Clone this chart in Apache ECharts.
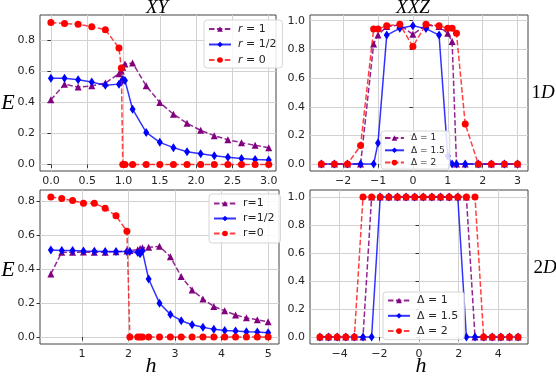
<!DOCTYPE html>
<html><head><meta charset="utf-8">
<script src="https://cdn.jsdelivr.net/npm/echarts@6/dist/echarts.min.js"></script>
<style>html,body{margin:0;padding:0;background:#fff}#c{width:556px;height:376px}</style>
</head><body><div id="c"></div>
<script>
// ---- XY, 1D (top-left) ----
const xXY1 = [0, 0.1875, 0.375, 0.5625, 0.75, 0.9375, 0.97, 0.99, 1.02, 1.125, 1.3125, 1.5, 1.6875, 1.875, 2.0625, 2.25, 2.4375, 2.625, 2.8125, 3.0];
const xy1_r1   = [0.415, 0.516, 0.497, 0.505, 0.523, 0.583, 0.600, 0.625, 0.645, 0.652, 0.505, 0.398, 0.323, 0.265, 0.219, 0.185, 0.159, 0.140, 0.123, 0.108];
const xy1_rHalf= [0.553, 0.553, 0.544, 0.529, 0.508, 0.516, 0.530, 0.545, 0.540, 0.355, 0.206, 0.142, 0.108, 0.082, 0.069, 0.056, 0.047, 0.039, 0.032, 0.028];
const xy1_r0   = [0.912, 0.905, 0.901, 0.884, 0.866, 0.748, 0.619, 0, 0, 0, 0, 0, 0, 0, 0, 0, 0, 0, 0, 0];
// ---- XY, 2D (bottom-left) ----
const hXY2 = [0.333, 0.567, 0.8, 1.033, 1.267, 1.5, 1.733, 1.967, 2.03, 2.2, 2.25, 2.3, 2.433, 2.667, 2.9, 3.133, 3.367, 3.6, 3.833, 4.067, 4.3, 4.533, 4.767, 5.0];
const xy2_r1   = [0.371, 0.498, 0.498, 0.499, 0.498, 0.498, 0.501, 0.505, 0.508, 0.513, 0.520, 0.525, 0.527, 0.533, 0.472, 0.355, 0.277, 0.224, 0.180, 0.154, 0.129, 0.113, 0.101, 0.090];
const xy2_rHalf= [0.511, 0.509, 0.508, 0.505, 0.504, 0.502, 0.502, 0.503, 0.503, 0.497, 0.490, 0.505, 0.341, 0.199, 0.133, 0.096, 0.072, 0.057, 0.045, 0.039, 0.035, 0.031, 0.029, 0.025];
const xy2_r0   = [0.823, 0.814, 0.802, 0.786, 0.786, 0.757, 0.712, 0.622, 0, 0, 0, 0, 0, 0, 0, 0, 0, 0, 0, 0, 0, 0, 0, 0];
// ---- XXZ, 1D (top-right) ----
const x1D = [-2.625, -2.25, -1.875, -1.5, -1.125, -1.0, -0.75, -0.375, 0, 0.375, 0.75, 1.0, 1.125, 1.25, 1.5, 1.875, 2.25, 2.625, 3.0];
const xxz1_d1  = [0, 0, 0, 0, 0.838, 0.900, 0.960, 0.970, 0.905, 0.970, 0.960, 0.912, 0.855, 0, 0, 0, 0, 0, 0];
const xxz1_d15 = [0, 0, 0, 0, 0, 0.148, 0.900, 0.947, 0.965, 0.945, 0.900, 0.056, 0, 0, 0, 0, 0, 0, 0];
const xxz1_d2  = [0, 0, 0, 0.130, 0.942, 0.942, 0.965, 0.975, 0.820, 0.975, 0.965, 0.947, 0.947, 0.912, 0.280, 0, 0, 0, 0];
// ---- XXZ, 2D (bottom-right) ----
const x2D = [-5, -4.565, -4.13, -3.696, -3.261, -2.826, -2.391, -1.957, -1.522, -1.087, -0.652, -0.217, 0.217, 0.652, 1.087, 1.522, 1.957, 2.391, 2.826, 3.261, 3.696, 4.13, 4.565, 5];
const xxz2_d1  = [0, 0, 0, 0, 0, 0, 1, 1, 1, 1, 1, 1, 1, 1, 1, 1, 1, 1, 0, 0, 0, 0, 0, 0];
const xxz2_d15 = [0, 0, 0, 0, 0, 0, 0, 1, 1, 1, 1, 1, 1, 1, 1, 1, 1, 0, 0, 0, 0, 0, 0, 0];
const xxz2_d2  = [0, 0, 0, 0, 0, 1, 1, 1, 1, 1, 1, 1, 1, 1, 1, 1, 1, 1, 1, 0, 0, 0, 0, 0];
// ---- tick labels ----
const ticksX1 = [0, 0.5, 1.0, 1.5, 2.0, 2.5, 3.0];
const ticksY1 = [0, 0.2, 0.4, 0.6, 0.8];
const ticksX2 = [-2, -1, 0, 1, 2, 3];
const ticksY2 = [0, 0.2, 0.4, 0.6, 0.8, 1.0];
const ticksX3 = [1, 2, 3, 4, 5];
const ticksY3 = [0, 0.2, 0.4, 0.6, 0.8];
const ticksX4 = [-4, -2, 0, 2, 4];
const ticksY4 = [0, 0.2, 0.4, 0.6, 0.8, 1.0];
const namesXY1 = ['r = 1', 'r = 1/2', 'r = 0'];
const namesXY2 = ['r=1', 'r=1/2', 'r=0'];
const namesXXZ = ['\u0394 = 1', '\u0394 = 1.5', '\u0394 = 2'];

const FONT = 'DejaVu Sans';
const TXT = '#262626';
const styles = [
  {color: '#800080', symbol: 'triangle', size: 7, dash: [5.5, 2.4], lc: 'rgba(128,0,128,0.85)'},
  {color: '#0000ff', symbol: 'diamond', size: [6, 9], dash: 'solid', lc: 'rgba(0,0,255,0.8)'},
  {color: '#ff0000', symbol: 'circle', size: 7, dash: [5.5, 2.4], lc: 'rgba(255,0,0,0.75)'}
];
function mk(name, xs, ys, k, gi) {
  const s = styles[k];
  return {
    type: 'line', name: name, xAxisIndex: gi, yAxisIndex: gi,
    data: xs.map((x, i) => [x, ys[i]]),
    symbol: s.symbol, symbolSize: s.size, showAllSymbol: true,
    itemStyle: {color: s.color},
    lineStyle: {color: s.lc, width: 1.5, type: s.dash},
    emphasis: {disabled: true}, animation: false, z: 2 + k
  };
}
const fmtMinus = v => (v < 0 ? '\u2212' + Math.abs(v) : String(v));
function xAx(gi, min, max, ticks, fmt) {
  return {
    type: 'value', gridIndex: gi, min: min, max: max,
    axisLine: {show: false},
    axisTick: {show: true, inside: false, length: 3.5, customValues: ticks, lineStyle: {color: '#333', width: 1}},
    axisLabel: {customValues: ticks, formatter: fmt, color: TXT, fontFamily: FONT, fontSize: 11, margin: 5},
    splitLine: {show: true, lineStyle: {color: '#d2d2d2', width: 1}}
  };
}
function yAx(gi, min, max, ticks) {
  return {
    type: 'value', gridIndex: gi, min: min, max: max,
    axisLine: {show: false},
    axisTick: {show: true, inside: false, length: 3.5, customValues: ticks, lineStyle: {color: '#333', width: 1}},
    axisLabel: {customValues: ticks, formatter: v => v.toFixed(1), color: TXT, fontFamily: FONT, fontSize: 11, margin: 5},
    splitLine: {show: true, lineStyle: {color: '#d2d2d2', width: 1}}
  };
}
function leg(names, left, top, w, gap, fs, lh, pad, rich) {
  return {
    data: names, orient: 'vertical', left: left, top: top,
    itemWidth: w, itemHeight: 7, itemGap: gap,
    backgroundColor: 'rgba(255,255,255,0.85)', borderColor: '#d6d6d6', borderWidth: 1, borderRadius: 3,
    padding: pad,
    selectedMode: false,
    formatter: rich ? (n => n.replace('r', '{i|r}')) : undefined,
    textStyle: {color: TXT, fontFamily: FONT, fontSize: fs, lineHeight: lh, padding: [0, 0, 0, 2],
      rich: {i: {fontStyle: 'italic', fontFamily: FONT, fontSize: fs, lineHeight: lh, color: TXT}}}
  };
}
const gridStyle = {show: true, borderColor: '#444', borderWidth: 1, backgroundColor: 'transparent', containLabel: false};
const option = {
  backgroundColor: '#fff',
  animation: false,
  grid: [
    Object.assign({left: 40, top: 15, width: 236, height: 156}, gridStyle),
    Object.assign({left: 310, top: 15, width: 218, height: 156}, gridStyle),
    Object.assign({left: 40, top: 190, width: 239, height: 154}, gridStyle),
    Object.assign({left: 310, top: 190, width: 218, height: 154}, gridStyle)
  ],
  xAxis: [
    xAx(0, -0.15, 3.1, ticksX1, v => v.toFixed(1)),
    xAx(1, -2.95, 3.3, ticksX2, fmtMinus),
    xAx(2, 0.1, 5.233, ticksX3, v => String(v)),
    xAx(3, -5.5, 5.5, ticksX4, fmtMinus)
  ],
  yAxis: [
    yAx(0, -0.042, 0.96, ticksY1),
    yAx(1, -0.048, 1.04, ticksY2),
    yAx(2, -0.041, 0.864, ticksY3),
    yAx(3, -0.05, 1.05, ticksY4)
  ],
  legend: [
    leg(namesXY1, 204, 20, 22, 3.5, 11, 12, [3, 6, 2, 4], true),
    leg(namesXXZ, 381, 131, 19, 2.3, 9, 10, [2, 5, 1.5, 3], false),
    leg(namesXY2, 209, 194, 22, 3, 11, 12, [3.5, 6, 3.5, 4], false),
    leg(namesXXZ, 383, 292, 22, 3.3, 11, 12, [2.5, 6, 2.5, 4], false)
  ],
  series: [
    mk(namesXY1[0], xXY1, xy1_r1, 0, 0),
    mk(namesXY1[1], xXY1, xy1_rHalf, 1, 0),
    mk(namesXY1[2], xXY1, xy1_r0, 2, 0),
    mk(namesXXZ[0], x1D, xxz1_d1, 0, 1),
    mk(namesXXZ[1], x1D, xxz1_d15, 1, 1),
    mk(namesXXZ[2], x1D, xxz1_d2, 2, 1),
    mk(namesXY2[0], hXY2, xy2_r1, 0, 2),
    mk(namesXY2[1], hXY2, xy2_rHalf, 1, 2),
    mk(namesXY2[2], hXY2, xy2_r0, 2, 2),
    mk(namesXXZ[0], x2D, xxz2_d1, 0, 3),
    mk(namesXXZ[1], x2D, xxz2_d15, 1, 3),
    mk(namesXXZ[2], x2D, xxz2_d2, 2, 3)
  ],
  graphic: [
    {type: 'text', x: 157, y: 8, style: {text: 'XY', font: 'italic 19px "Liberation Serif"', fill: '#000', align: 'center', verticalAlign: 'middle'}},
    {type: 'text', x: 413, y: 8, style: {text: 'XXZ', font: 'italic 19px "Liberation Serif"', fill: '#000', align: 'center', verticalAlign: 'middle'}},
    {type: 'text', x: 8, y: 103, style: {text: 'E', font: 'italic 22px "Liberation Serif"', fill: '#000', align: 'center', verticalAlign: 'middle'}},
    {type: 'text', x: 8, y: 270, style: {text: 'E', font: 'italic 22px "Liberation Serif"', fill: '#000', align: 'center', verticalAlign: 'middle'}},
    {type: 'text', x: 151, y: 366, style: {text: 'h', font: 'italic 22px "Liberation Serif"', fill: '#000', align: 'center', verticalAlign: 'middle'}},
    {type: 'text', x: 421, y: 366, style: {text: 'h', font: 'italic 22px "Liberation Serif"', fill: '#000', align: 'center', verticalAlign: 'middle'}},
    {type: 'text', x: 543, y: 93, style: {text: '{a|1}{b|D}', align: 'center', verticalAlign: 'middle',
      rich: {a: {fontFamily: 'Liberation Serif', fontSize: 19, fill: '#000'}, b: {fontFamily: 'Liberation Serif', fontStyle: 'italic', fontSize: 19, fill: '#000'}}}},
    {type: 'text', x: 545, y: 268, style: {text: '{a|2}{b|D}', align: 'center', verticalAlign: 'middle',
      rich: {a: {fontFamily: 'Liberation Serif', fontSize: 19, fill: '#000'}, b: {fontFamily: 'Liberation Serif', fontStyle: 'italic', fontSize: 19, fill: '#000'}}}}
  ]
};
const chart = echarts.init(document.getElementById('c'), null, {renderer: 'canvas'});
chart.setOption(option);
</script>
</body></html>
